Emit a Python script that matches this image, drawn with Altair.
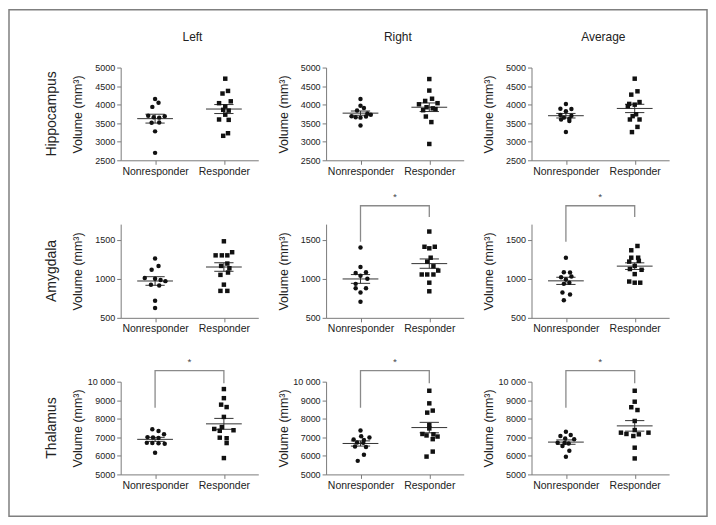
import altair as alt
import pandas as pd

groups = ["Nonresponder", "Responder"]
regions = ["Hippocampus", "Amygdala", "Thalamus"]
sides = ["Left", "Right", "Average"]
y_domains = [[2500, 5000], [500, 1700], [5000, 10000]]
y_ticks = [[2500, 3000, 3500, 4000, 4500, 5000], [500, 1000, 1500],
           [5000, 6000, 7000, 8000, 9000, 10000]]

# Hippocampus
hip_L_non = [4150, 4050, 3940, 3700, 3660, 3650, 3690, 3520, 3510, 3280, 2700]
hip_L_non_j = [0, 0.05, -0.04, -0.1, -0.02, 0.06, 0.14, 0.06, -0.05, 0, 0]
hip_L_res = [4700, 4370, 4300, 4090, 4040, 3950, 3860, 3840, 3730, 3600, 3590, 3230, 3160]
hip_L_res_j = [0.02, 0.06, -0.02, 0.1, -0.07, 0.02, -0.01, 0.07, 0.02, -0.07, 0.07, 0.06, -0.01]
hip_R_non = [4150, 3970, 3910, 3840, 3760, 3730, 3690, 3680, 3660, 3650, 3440]
hip_R_non_j = [0, 0, 0.05, -0.05, 0.1, 0.15, -0.13, 0.08, -0.07, 0, 0]
hip_R_res = [4690, 4380, 4160, 4100, 4040, 4010, 3930, 3900, 3880, 3850, 3680, 3530, 2940]
hip_R_res_j = [0, 0, 0.04, -0.06, 0.12, -0.15, -0.04, 0.05, 0.09, -0.09, -0.05, 0.03, 0]
hip_A_non = [4020, 3890, 3880, 3820, 3720, 3700, 3650, 3620, 3600, 3560, 3260]
hip_A_non_j = [0, -0.08, 0.08, 0, -0.08, 0.08, -0.03, 0.05, -0.07, 0.05, 0]
hip_A_res = [4700, 4360, 4270, 4070, 4020, 4000, 3960, 3740, 3690, 3600, 3600, 3400, 3260]
hip_A_res_j = [0, 0.04, -0.05, 0.07, -0.08, 0, -0.1, 0.02, -0.03, -0.07, 0.07, 0.04, -0.04]

# Amygdala
amy_L_non = [1260, 1165, 1115, 1010, 1000, 985, 970, 925, 915, 720, 625]
amy_L_non_j = [0, 0.05, -0.05, -0.15, 0, 0.08, 0.15, -0.06, 0.06, 0, 0]
amy_L_res = [1480, 1340, 1300, 1300, 1300, 1195, 1165, 1135, 1080, 1050, 925, 845, 845]
amy_L_res_j = [0, 0.12, -0.12, -0.03, 0.05, 0.05, -0.04, 0.08, 0.06, -0.05, 0, -0.05, 0.05]
amy_R_non = [1400, 1150, 1085, 1075, 1040, 1000, 935, 880, 880, 825, 705]
amy_R_non_j = [0, 0, 0.08, -0.07, 0, 0.1, -0.07, -0.07, 0.08, 0, 0]
amy_R_res = [1605, 1410, 1390, 1410, 1270, 1220, 1160, 1105, 1055, 1055, 1055, 950, 840]
amy_R_res_j = [0, -0.07, 0, 0.08, 0.02, -0.03, 0.06, 0.13, -0.11, -0.03, 0.06, 0, 0]
amy_A_non = [1270, 1085, 1080, 1030, 1020, 990, 950, 935, 825, 800, 725]
amy_A_non_j = [0, -0.03, 0.06, 0.08, -0.07, 0, 0.05, -0.03, -0.05, 0.06, -0.03]
amy_A_res = [1420, 1365, 1270, 1270, 1220, 1230, 1165, 1115, 1125, 1060, 965, 950, 950]
amy_A_res_j = [0.04, -0.05, -0.05, 0.05, -0.08, 0.06, 0, 0.1, -0.07, 0, -0.08, 0, 0.08]

# Thalamus
tha_L_non = [7430, 7340, 7160, 7010, 6990, 6960, 6700, 6690, 6680, 6650, 6170]
tha_L_non_j = [-0.04, 0.05, 0.13, -0.11, -0.03, 0.05, -0.12, -0.04, 0.05, 0.14, 0]
tha_L_res = [9600, 9110, 8760, 8630, 8100, 7550, 7450, 7380, 7350, 6980, 6950, 6690, 5880]
tha_L_res_j = [0, 0, -0.04, 0.04, 0, -0.03, -0.14, 0.14, -0.06, -0.06, 0.04, 0.04, 0]
tha_R_non = [7370, 7060, 6990, 6880, 6850, 6720, 6700, 6500, 6480, 6060, 5730]
tha_R_non_j = [0, 0.01, 0.13, -0.1, 0.05, -0.05, 0.04, -0.08, 0.08, 0.05, -0.04]
tha_R_res = [9510, 8830, 8440, 8330, 7660, 7480, 7180, 7160, 7100, 7040, 6900, 6230, 5960]
tha_R_res_j = [0, 0, 0.05, -0.03, 0, 0, -0.1, 0.06, -0.04, 0.12, 0.05, 0.05, -0.04]
tha_A_non = [7300, 7120, 7070, 6940, 6890, 6710, 6690, 6670, 6530, 6280, 5950]
tha_A_non_j = [0, 0.07, -0.08, -0.01, 0.12, -0.12, -0.02, 0.04, -0.05, 0.05, 0]
tha_A_res = [9510, 8920, 8620, 8470, 7880, 7390, 7250, 7250, 7180, 7160, 7070, 6440, 5860]
tha_A_res_j = [0, 0, -0.05, 0.04, 0, 0, -0.2, 0.2, -0.12, 0.06, -0.02, 0, 0]

# significance brackets (data units): [left leg end, top, right leg end]
amy_bracket = [1475, 1935, 1790]
tha_bracket = [8590, 10590, 9920]
significant = {(1, 1): amy_bracket, (1, 2): amy_bracket,
               (2, 0): tha_bracket, (2, 1): tha_bracket, (2, 2): tha_bracket}

panel_data = [
    [(hip_L_non, hip_L_non_j, hip_L_res, hip_L_res_j),
     (hip_R_non, hip_R_non_j, hip_R_res, hip_R_res_j),
     (hip_A_non, hip_A_non_j, hip_A_res, hip_A_res_j)],
    [(amy_L_non, amy_L_non_j, amy_L_res, amy_L_res_j),
     (amy_R_non, amy_R_non_j, amy_R_res, amy_R_res_j),
     (amy_A_non, amy_A_non_j, amy_A_res, amy_A_res_j)],
    [(tha_L_non, tha_L_non_j, tha_L_res, tha_L_res_j),
     (tha_R_non, tha_R_non_j, tha_R_res, tha_R_res_j),
     (tha_A_non, tha_A_non_j, tha_A_res, tha_A_res_j)],
]

FONT = "Liberation Sans"
AX = "#7a7a7a"
INK = "#222222"
W = 138
H = [93, 94, 93]
HS = 68
VS = 64
# page position of the first plot area, and of the outer frame
ORIGIN = (120, 66)
FRAME = (8, 8, 708, 516)


def xenc(field):
    return alt.X(field, type="quantitative",
                 scale=alt.Scale(domain=[-0.5, 1.5], nice=False, zero=False),
                 axis=alt.Axis(values=[0, 1], title=None, grid=False,
                               labelExpr="datum.value == 0 ? 'Nonresponder' : 'Responder'",
                               labelFontSize=10.5, labelColor=INK, labelFont=FONT,
                               labelFlush=False, labelOverlap=False,
                               tickSize=4, labelPadding=2,
                               domainColor=AX, tickColor=AX))


def yenc(field, r):
    return alt.Y(field, type="quantitative",
                 scale=alt.Scale(domain=y_domains[r], nice=False, zero=False),
                 axis=alt.Axis(values=y_ticks[r], format="d",
                               labelExpr="datum.value >= 10000 ? '10 000' : datum.label",
                               title="Volume (mm³)", titleFontSize=12.5, titleFont=FONT,
                               titleFontWeight="normal", titleColor=INK, titlePadding=3,
                               minExtent=33, maxExtent=33, grid=False,
                               labelFontSize=9, labelFont=FONT, labelColor=INK,
                               labelOverlap=False, labelFlush=False,
                               tickSize=4, labelPadding=2,
                               domainColor=AX, tickColor=AX))


def panel(r, c):
    non, non_j, res, res_j = panel_data[r][c]
    df = pd.DataFrame({
        "group": [groups[0]] * len(non) + [groups[1]] * len(res),
        "gi": [0] * len(non) + [1] * len(res),
        "value": non + res,
        "jit": non_j + res_j,
    })
    pts = alt.Chart(df).transform_calculate(xp="datum.gi + datum.jit").mark_point(
        filled=True, opacity=1, size=20, color="#111111").encode(
        x=xenc("xp"), y=yenc("value", r),
        shape=alt.Shape("group:N", scale=alt.Scale(domain=groups, range=["circle", "square"]),
                        legend=None))
    stats = alt.Chart(df).transform_aggregate(
        mean="mean(value)", sem="stderr(value)", groupby=["gi"]).transform_calculate(
        lo="datum.mean - datum.sem", hi="datum.mean + datum.sem",
        m1="datum.gi - 0.26", m2="datum.gi + 0.26",
        c1="datum.gi - 0.14", c2="datum.gi + 0.14")
    line_style = dict(color="#333333", strokeWidth=1)
    mean_r = stats.mark_rule(**line_style).encode(x=xenc("m1"), x2="m2:Q", y=yenc("mean", r))
    lo_r = stats.mark_rule(**line_style).encode(x=xenc("c1"), x2="c2:Q", y=yenc("lo", r))
    hi_r = stats.mark_rule(**line_style).encode(x=xenc("c1"), x2="c2:Q", y=yenc("hi", r))
    vert = stats.mark_rule(**line_style).encode(x=xenc("gi"), y=yenc("lo", r), y2="hi:Q")
    layers = [vert, mean_r, lo_r, hi_r, pts]

    if (r, c) in significant:
        leg_l, top, leg_r = significant[(r, c)]
        bdf = pd.DataFrame({"bx": [0, 0, 1, 1], "by": [leg_l, top, top, leg_r], "o": [0, 1, 2, 3]})
        layers.append(alt.Chart(bdf).mark_line(color="#8a8a8a", strokeWidth=1.3).encode(
            x=xenc("bx"), y=yenc("by", r), order="o:Q"))
        sdf = pd.DataFrame({"sx": [0.5], "sy": [top], "s": ["*"]})
        layers.append(alt.Chart(sdf).mark_text(dy=-6, baseline="alphabetic", fontSize=10,
                                               font=FONT, color="#444444").encode(
            x=xenc("sx"), y=yenc("sy", r), text="s:N"))

    if c == 0:
        layers.append(alt.Chart(pd.DataFrame({"t": [regions[r]]})).mark_text(
            angle=270, fontSize=14, font=FONT, color=INK, align="center", baseline="middle").encode(
            x=alt.value(-69), y=alt.value(H[r] / 2), text="t:N"))
    if r == 0:
        layers.append(alt.Chart(pd.DataFrame({"t": [sides[c]]})).mark_text(
            fontSize=12, font=FONT, color=INK, align="center", baseline="middle").encode(
            x=alt.value(W / 2 + 3), y=alt.value(-31), text="t:N"))
    if r == 2 and c == 2:
        px = ORIGIN[0] + 2 * (W + HS)
        py = ORIGIN[1] + H[0] + H[1] + 2 * VS
        layers.append(alt.Chart(pd.DataFrame({"f": [0]})).mark_rect(
            fillOpacity=0, stroke="#7f7f7f", strokeWidth=1.5).encode(
            x=alt.value(FRAME[0] - px), x2=alt.value(FRAME[2] - px),
            y=alt.value(FRAME[1] - py), y2=alt.value(FRAME[3] - py)))

    return alt.layer(*layers).properties(width=W, height=H[r])


panels = [panel(r, c) for r in range(3) for c in range(3)]

chart = alt.concat(*panels, columns=3, spacing={"row": VS, "column": HS},
                   bounds="flush", align="each").properties(
    padding=0, background="white").configure_view(stroke=None)

chart.save("out.html", embed_options={"renderer": "svg", "actions": False})
